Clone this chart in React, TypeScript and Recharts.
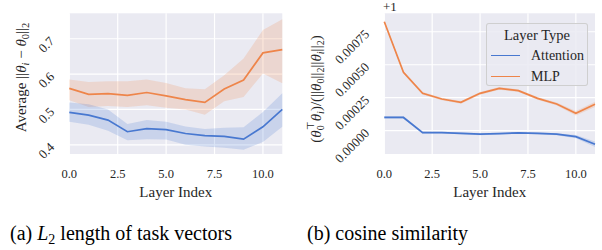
import { Area, CartesianGrid, ComposedChart, Legend, Line, XAxis, YAxis } from "recharts";

const layers = [0, 1, 2, 3, 4, 5, 6, 7, 8, 9, 10, 11];
const xTicks = [0, 2.5, 5, 7.5, 10];

// (a) L2 length of task vectors
const l2Ticks = [0.4, 0.5, 0.6, 0.7];
const l2Mlp = [0.5595, 0.5425, 0.545, 0.54, 0.548, 0.5385, 0.528, 0.52, 0.558, 0.583, 0.66, 0.669];
const l2MlpHi = [0.585, 0.578, 0.58, 0.58, 0.585, 0.575, 0.56, 0.557, 0.597, 0.644, 0.725, 0.755];
const l2MlpLo = [0.526, 0.507, 0.51, 0.507, 0.512, 0.505, 0.5, 0.485, 0.523, 0.535, 0.602, 0.574];
const l2Attn = [0.4915, 0.484, 0.47, 0.437, 0.446, 0.443, 0.432, 0.426, 0.424, 0.416, 0.451, 0.5];
const l2AttnHi = [0.52, 0.515, 0.5, 0.459, 0.47, 0.465, 0.452, 0.445, 0.448, 0.45, 0.493, 0.546];
const l2AttnLo = [0.465, 0.457, 0.44, 0.413, 0.416, 0.415, 0.4, 0.395, 0.392, 0.386, 0.408, 0.451];

// (b) cosine similarity, offset by +1
const cosTicks = [0, 0.00025, 0.0005, 0.00075];
const cosMlp = [0.000826, 0.000442, 0.000283, 0.00024, 0.000215, 0.000283, 0.000321, 0.000303, 0.000245, 0.000202, 0.000132, 0.0002];
const cosMlpHi = [0.000838, 0.000452, 0.000293, 0.00025, 0.000225, 0.000293, 0.000331, 0.000313, 0.000256, 0.000214, 0.00015, 0.00022];
const cosMlpLo = [0.000814, 0.000432, 0.000273, 0.00023, 0.000205, 0.000273, 0.000311, 0.000293, 0.000234, 0.00019, 0.000115, 0.00018];
const cosAttn = [0.0001, 0.0001, -0.000015, -0.000015, -0.00002, -0.000027, -0.000022, -0.000017, -0.00002, -0.000027, -0.000045, -0.000103];
const cosAttnHi = [0.00011, 0.00011, -0.000007, -0.000008, -0.000013, -0.00002, -0.000015, -0.00001, -0.000013, -0.000019, -0.000033, -0.000083];
const cosAttnLo = [0.00009, 0.00009, -0.000023, -0.000022, -0.000027, -0.000034, -0.000029, -0.000024, -0.000027, -0.000035, -0.000057, -0.000123];

const BLUE = "#4878D0";
const ORANGE = "#EE854A";
const INK = "#262626";
const FONT = '"Liberation Serif", "Times New Roman", Times, serif';
const serif = { fontFamily: FONT };

const l2Data = layers.map((layer, i) => ({
  layer,
  attn: l2Attn[i],
  attnBand: [l2AttnLo[i], l2AttnHi[i]],
  mlp: l2Mlp[i],
  mlpBand: [l2MlpLo[i], l2MlpHi[i]],
}));

const cosData = layers.map((layer, i) => ({
  layer,
  attn: cosAttn[i],
  attnBand: [cosAttnLo[i], cosAttnHi[i]],
  mlp: cosMlp[i],
  mlpBand: [cosMlpLo[i], cosMlpHi[i]],
}));

// rotated y tick, right end sits just left of the plot
const makeYTick = (ax: number, digits: number) => (props: any) => {
  const { y, payload } = props;
  const ay = y;
  return (
    <text
      x={ax}
      y={ay}
      transform={`rotate(-45 ${ax} ${ay})`}
      textAnchor="end"
      dominantBaseline="central"
      fill={INK}
      style={{ ...serif, fontSize: 13 }}
    >
      {Number(payload.value).toFixed(digits)}
    </text>
  );
};

const XTick = (props: any) => {
  const { x, payload } = props;
  return (
    <text x={x} y={178} textAnchor="middle" fill={INK} style={{ ...serif, fontSize: 12.5 }}>
      {Number(payload.value).toFixed(1)}
    </text>
  );
};

const LegendBox = ({ payload }: any) => {
  const items = (payload || []).filter((p: any) => p.type !== "none");
  return (
    <div
      style={{
        width: 102,
        height: 63,
        boxSizing: "border-box",
        border: "1px solid rgba(204,204,204,0.9)",
        borderRadius: 3,
        background: "rgba(234,234,242,0.85)",
        ...serif,
        color: INK,
        position: "relative",
      }}
    >
      <div style={{ position: "absolute", top: 3, left: 0, width: "100%", textAlign: "center", fontSize: 14.5 }}>
        Layer Type
      </div>
      {items.map((p: any, i: number) => (
        <div key={p.value} style={{ position: "absolute", top: 23 + i * 21, left: 0, height: 18, width: "100%" }}>
          <div style={{ position: "absolute", left: 4, top: 8, width: 29, height: 1.6, background: p.color }} />
          <div style={{ position: "absolute", left: 44, top: 0, fontSize: 14, lineHeight: "18px" }}>{p.value}</div>
        </div>
      ))}
    </div>
  );
};

const App = () => {
  return (
    <div style={{ position: "absolute", left: 0, top: 0, width: 602, height: 250, background: "#fff", overflow: "hidden", ...serif }}>
      <div style={{ position: "absolute", left: 0, top: 0 }}>
        <ComposedChart width={300} height={200} data={l2Data} margin={{ top: 13.3, right: 17.7, left: 0, bottom: 0 }}>
          <CartesianGrid fill="#EAEAF2" stroke="#ffffff" strokeWidth={1.2} syncWithTicks />
          <XAxis
            dataKey="layer"
            type="number"
            domain={[0, 11]}
            ticks={xTicks}
            axisLine={false}
            tickLine={false}
            height={46}
            tick={<XTick />}
          />
          <YAxis
            type="number"
            domain={[0.374, 0.772]}
            ticks={l2Ticks}
            allowDataOverflow
            axisLine={false}
            tickLine={false}
            width={69.3}
            tick={makeYTick(52, 1)}
          />
          <Area dataKey="mlpBand" type="linear" stroke="none" fill={ORANGE} fillOpacity={0.2} legendType="none" isAnimationActive={false} />
          <Area dataKey="attnBand" type="linear" stroke="none" fill={BLUE} fillOpacity={0.2} legendType="none" isAnimationActive={false} />
          <Line dataKey="attn" type="linear" stroke={BLUE} strokeWidth={1.7} dot={false} isAnimationActive={false} />
          <Line dataKey="mlp" type="linear" stroke={ORANGE} strokeWidth={1.7} dot={false} isAnimationActive={false} />
        </ComposedChart>
      </div>

      <div style={{ position: "absolute", left: 300, top: 0 }}>
        <ComposedChart width={302} height={200} data={cosData} margin={{ top: 13.3, right: 7, left: 0, bottom: 0 }}>
          <CartesianGrid fill="#EAEAF2" stroke="#ffffff" strokeWidth={1.2} syncWithTicks />
          <XAxis
            dataKey="layer"
            type="number"
            domain={[0, 11]}
            ticks={xTicks}
            axisLine={false}
            tickLine={false}
            height={46}
            tick={<XTick />}
          />
          <YAxis
            type="number"
            domain={[-0.000177, 0.00089]}
            ticks={cosTicks}
            allowDataOverflow
            axisLine={false}
            tickLine={false}
            width={84.3}
            tick={makeYTick(67, 5)}
          />
          <Area dataKey="mlpBand" type="linear" stroke="none" fill={ORANGE} fillOpacity={0.2} legendType="none" isAnimationActive={false} />
          <Area dataKey="attnBand" type="linear" stroke="none" fill={BLUE} fillOpacity={0.2} legendType="none" isAnimationActive={false} />
          <Line dataKey="attn" name="Attention" type="linear" stroke={BLUE} strokeWidth={1.7} dot={false} isAnimationActive={false} />
          <Line dataKey="mlp" name="MLP" type="linear" stroke={ORANGE} strokeWidth={1.7} dot={false} isAnimationActive={false} />
          <Legend
            layout="vertical"
            align="center"
            verticalAlign="middle"
            content={<LegendBox />}
            wrapperStyle={{ left: 186, top: 22.5, width: 102, height: 63 }}
          />
        </ComposedChart>
      </div>

      <svg width={602} height={250} style={{ position: "absolute", left: 0, top: 0, pointerEvents: "none" }}>
        <g fill={INK} style={serif}>
          {/* left y label */}
          <text transform="translate(26 77.5) rotate(-90)" textAnchor="middle" fontSize={15}>
            Average ||<tspan fontStyle="italic">θ</tspan>
            <tspan fontStyle="italic" fontSize={10.5} dy={3}>i</tspan>
            <tspan dy={-3}> − </tspan>
            <tspan fontStyle="italic">θ</tspan>
            <tspan fontSize={10.5} dy={3}>0</tspan>
            <tspan dy={-3}>||</tspan>
            <tspan fontSize={10.5} dy={3}>2</tspan>
          </text>
          {/* right y label */}
          <text transform="translate(321 89) rotate(-90)" textAnchor="middle" fontSize={15}>
            (<tspan fontStyle="italic">θ</tspan>
            <tspan fontSize={10} dy={3}>0</tspan>
            <tspan fontSize={10} dx={-5} dy={-10}>⊤</tspan>
            <tspan fontStyle="italic" dy={7}>θ</tspan>
            <tspan fontStyle="italic" fontSize={10} dy={3}>i</tspan>
            <tspan dy={-3}>)/(||</tspan>
            <tspan fontStyle="italic">θ</tspan>
            <tspan fontSize={10} dy={3}>0</tspan>
            <tspan dy={-3}>||</tspan>
            <tspan fontSize={10} dy={3}>2</tspan>
            <tspan dy={-3}>||</tspan>
            <tspan fontStyle="italic">θ</tspan>
            <tspan fontStyle="italic" fontSize={10} dy={3}>i</tspan>
            <tspan dy={-3}>||</tspan>
            <tspan fontSize={10} dy={3}>2</tspan>
            <tspan dy={-3}>)</tspan>
          </text>
          <text x={383} y={11} fontSize={13}>+1</text>
          <text x={175.8} y={197} textAnchor="middle" fontSize={15}>Layer Index</text>
          <text x={489.7} y={197} textAnchor="middle" fontSize={15}>Layer Index</text>
          <text x={10} y={240} fontSize={20} fill="#000">
            (a) <tspan fontStyle="italic">L</tspan>
            <tspan fontSize={14} dy={4}>2</tspan>
            <tspan dy={-4}> length of task vectors</tspan>
          </text>
          <text x={307} y={240} fontSize={20} fill="#000">(b) cosine similarity</text>
        </g>
      </svg>
    </div>
  );
};

export default App;
